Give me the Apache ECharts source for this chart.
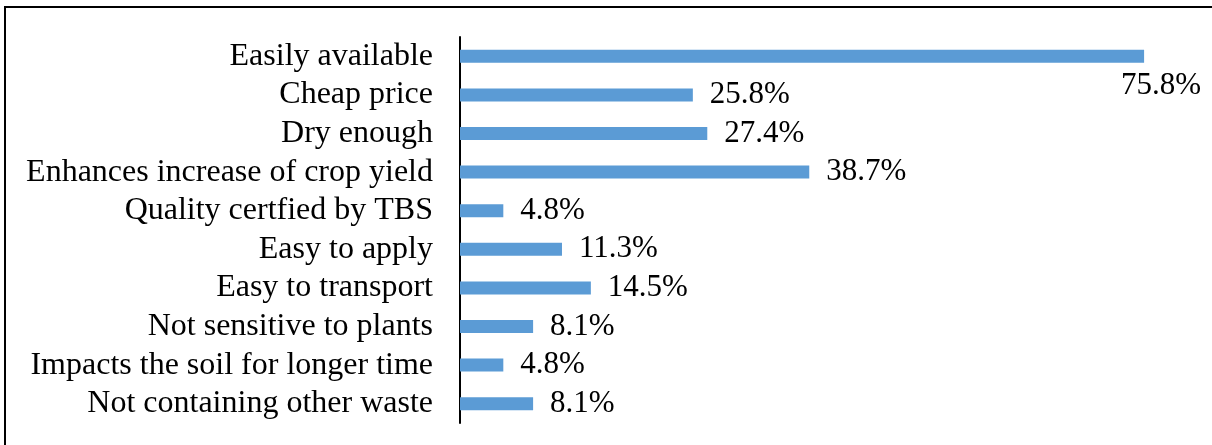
<!DOCTYPE html>
<html>
<head>
<meta charset="utf-8">
<script src="https://cdn.jsdelivr.net/npm/echarts@6/dist/echarts.min.js"></script>
<style>
html,body{margin:0;padding:0;background:#fff;overflow:hidden;}
#c{width:1212px;height:445px;}
</style>
</head>
<body>
<div id="c"></div>
<script>
const categories = [
  "Easily available",
  "Cheap price",
  "Dry enough",
  "Enhances increase of crop yield",
  "Quality certfied by TBS",
  "Easy to apply",
  "Easy to transport",
  "Not sensitive to plants",
  "Impacts the soil for longer time",
  "Not containing other waste"
];
const values = [75.8, 25.8, 27.4, 38.7, 4.8, 11.3, 14.5, 8.1, 4.8, 8.1];

const chart = echarts.init(document.getElementById('c'), null, {renderer: 'canvas'});
const FONT = '"Liberation Serif", "Times New Roman", serif';

const data = values.map((v, i) => {
  const item = {value: v};
  if (i === 0) {
    item.label = {offset: [-40, 30]};
  }
  return item;
});

chart.setOption({
  animation: false,
  backgroundColor: '#ffffff',
  grid: {left: 460, top: 37, bottom: 22, right: 30, containLabel: false},
  xAxis: {
    type: 'value', min: 0, max: 80, show: false
  },
  yAxis: {
    type: 'category',
    data: categories,
    inverse: true,
    axisLine: {show: true, lineStyle: {color: '#000', width: 2}},
    axisTick: {show: false},
    splitLine: {show: false},
    axisLabel: {
      interval: 0,
      color: '#000', fontFamily: FONT, fontSize: 32, margin: 27
    }
  },
  series: [{
    type: 'bar',
    data: data,
    barWidth: 13,
    itemStyle: {color: '#5B9BD5'},
    label: {
      show: true,
      position: 'right',
      distance: 17,
      color: '#000',
      fontFamily: FONT,
      fontSize: 31,
      formatter: p => p.value.toFixed(1) + '%'
    }
  }],
  graphic: [{
    type: 'polyline',
    shape: {points: [[5, 700], [5, 7], [1500, 7]]},
    style: {fill: null, stroke: '#000', lineWidth: 2},
    silent: true
  }]
});
</script>
</body>
</html>
